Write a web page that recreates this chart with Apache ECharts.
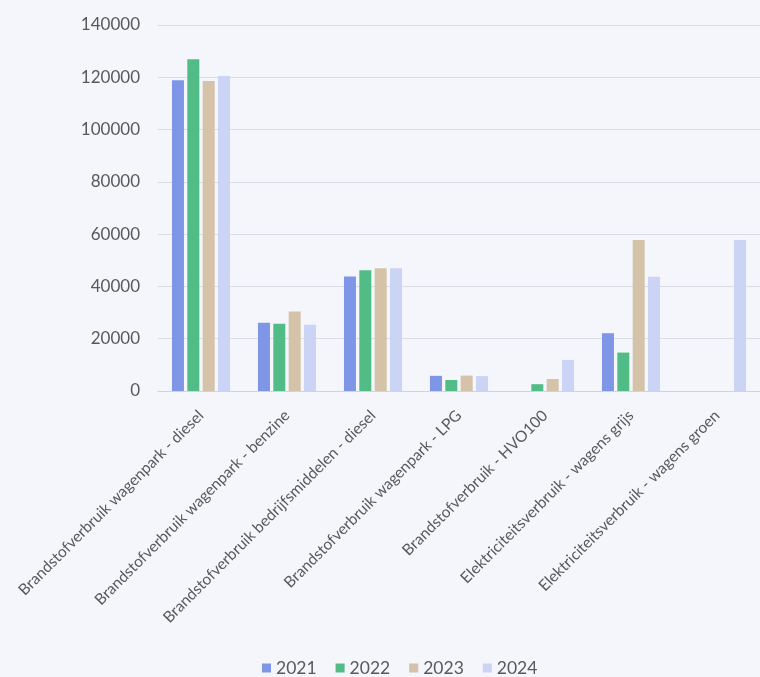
<!DOCTYPE html>
<html>
<head>
<meta charset="utf-8">
<script src="https://cdn.jsdelivr.net/npm/echarts@6/dist/echarts.min.js"></script>
<style>
  html, body { margin: 0; padding: 0; background: #f4f6fc; }
  #chart { width: 760px; height: 677px; }
</style>
</head>
<body>
<div id="chart"></div>
<script>
// Verbruikscategorieën (x-as)
const categories = [
  'Brandstofverbruik wagenpark - diesel',
  'Brandstofverbruik wagenpark - benzine',
  'Brandstofverbruik bedrijfsmiddelen - diesel',
  'Brandstofverbruik wagenpark - LPG',
  'Brandstofverbruik - HVO100',
  'Elektriciteitsverbruik - wagens grijs',
  'Elektriciteitsverbruik - wagens groen'
];

// Verbruik per jaar
const years = ['2021', '2022', '2023', '2024'];
const values2021 = [118900, 26100, 43800, 5800, null, 22100, null];
const values2022 = [126900, 25700, 46200, 4200, 2600, 14700, null];
const values2023 = [118600, 30400, 47000, 5900, 4600, 57800, null];
const values2024 = [120500, 25300, 47000, 5700, 11900, 43700, 57800];

// Y-as
const yMin = 0;
const yMax = 140000;
const yStep = 20000;

const colors = ['#7f96e6', '#52bc86', '#d5c3a9', '#cbd4f5'];
const seriesValues = [values2021, values2022, values2023, values2024];

const chart = echarts.init(document.getElementById('chart'), null, { renderer: 'canvas' });

chart.setOption({
  backgroundColor: '#f4f6fc',
  animation: false,
  color: colors,
  textStyle: { fontFamily: 'Lato, "Open Sans", sans-serif', color: '#595959' },
  grid: { left: 158, top: 25, width: 606, height: 366 },
  legend: {
    data: years,
    left: 257,
    top: 654,
    itemWidth: 9,
    itemHeight: 9,
    itemGap: 19,
    icon: 'rect',
    textStyle: { fontSize: 17.5, color: '#595959', fontFamily: 'Lato, sans-serif' }
  },
  xAxis: {
    type: 'category',
    data: categories,
    axisTick: { show: false },
    axisLine: { lineStyle: { color: '#cfd3dc', width: 1 } },
    axisLabel: {
      rotate: 45,
      interval: 0,
      margin: 22,
      fontSize: 15.5,
      color: '#595959',
      fontFamily: 'Lato, sans-serif'
    }
  },
  yAxis: {
    type: 'value',
    min: yMin,
    max: yMax,
    interval: yStep,
    axisLine: { show: false },
    axisTick: { show: false },
    splitLine: { lineStyle: { color: '#d9dce5', width: 1 } },
    axisLabel: {
      fontSize: 17,
      margin: 18,
      color: '#595959',
      fontFamily: 'Lato, sans-serif',
      formatter: (v) => String(v)
    }
  },
  series: years.map((y, i) => ({
    name: y,
    type: 'bar',
    data: seriesValues[i],
    barWidth: 12,
    barGap: '28%',
    itemStyle: { color: colors[i] }
  }))
});
</script>
</body>
</html>
